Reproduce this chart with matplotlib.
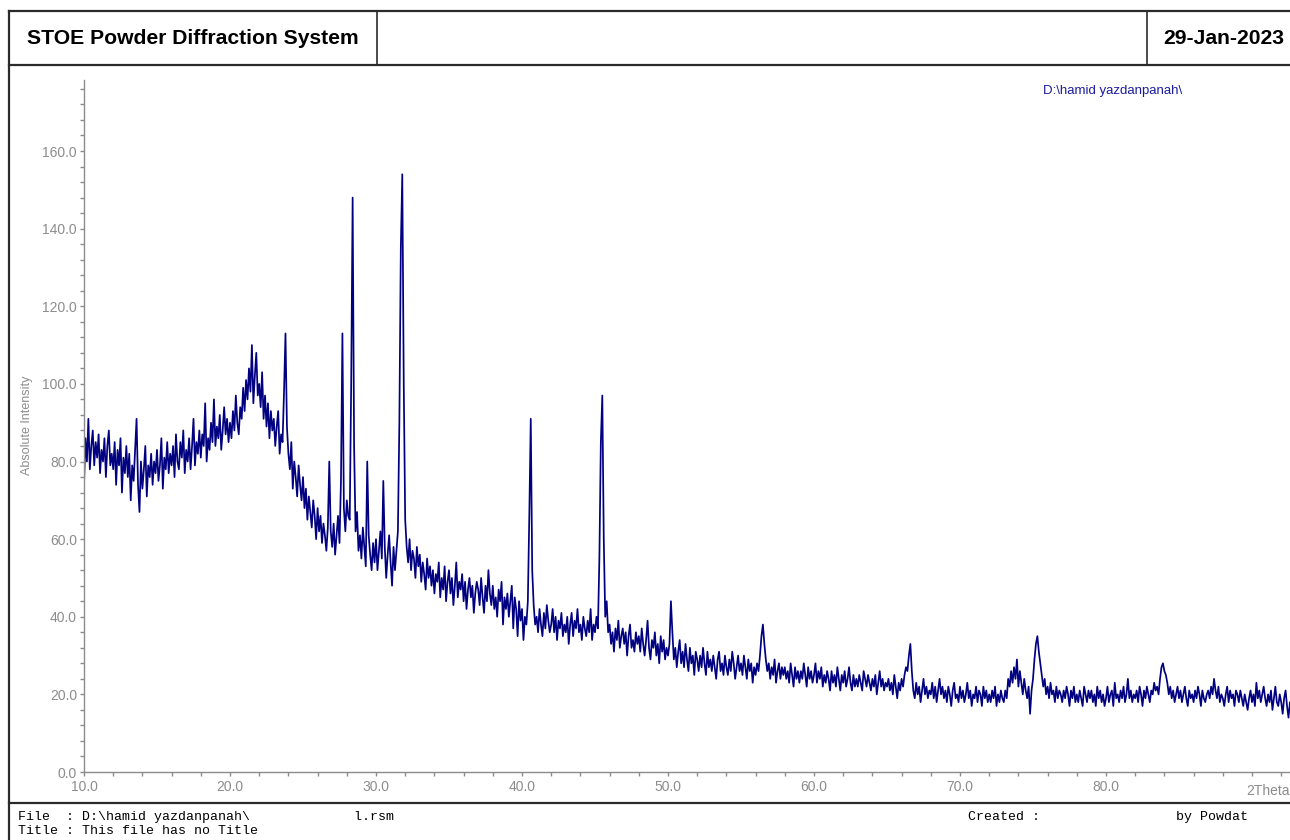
import numpy as np
import matplotlib.pyplot as plt
from matplotlib.lines import Line2D
from matplotlib.ticker import MultipleLocator

plt.rcParams['font.family'] = ['Liberation Sans', 'DejaVu Sans']

# counts, 0.1 deg steps, one row per degree
counts_10_20 = [
    74, 86, 80, 91, 78, 84, 88, 79, 85, 81,
    87, 77, 83, 80, 86, 76, 84, 88, 79, 82,
    78, 85, 74, 83, 79, 86, 72, 81, 77, 84,
    76, 82, 70, 79, 75, 83, 91, 74, 67, 80,
    73, 78, 84, 71, 79, 76, 82, 74, 80, 77,
    83, 75, 79, 86, 73, 81, 78, 85, 77, 82,
    79, 84, 76, 87, 80, 78, 85, 81, 88, 77,
    83, 80, 86, 78, 84, 91, 79, 85, 82, 88,
    81, 87, 84, 95, 80, 86, 83, 90, 85, 96,
    84, 89, 86, 92, 83, 88, 94, 87, 91, 85,
]
counts_20_30 = [
    90, 86, 93, 88, 97, 90, 87, 94, 91, 99,
    93, 101, 96, 104, 98, 110, 95, 102, 108, 97,
    100, 94, 103, 91, 97, 89, 95, 86, 93, 88,
    91, 84, 89, 93, 82, 87, 85, 98, 113, 89,
    82, 78, 85, 73, 80, 76, 71, 79, 74, 70,
    76, 68, 73, 65, 71, 67, 63, 70, 66, 60,
    68, 62, 66, 59, 64, 61, 57, 63, 80, 62,
    58, 64, 56, 61, 66, 59, 75, 113, 68, 62,
    70, 66, 65, 100, 148, 84, 62, 67, 57, 61,
    55, 63, 58, 53, 80, 61, 56, 52, 59, 54,
]
counts_30_40 = [
    60, 52, 57, 62, 55, 75, 58, 50, 56, 61,
    54, 48, 58, 52, 57, 62, 90, 135, 154, 100,
    65, 58, 54, 60, 52, 57, 55, 50, 58, 53,
    56, 49, 54, 51, 47, 55, 50, 53, 48, 52,
    46, 51, 49, 54, 45, 50, 47, 53, 44, 49,
    52, 46, 50, 43, 48, 54, 45, 49, 47, 51,
    44, 49, 42, 47, 50, 45, 48, 41, 46, 49,
    47, 43, 50, 45, 41, 48, 44, 52, 46, 43,
    48, 42, 45, 40, 47, 44, 49, 38, 45, 42,
    46, 40, 44, 48, 37, 45, 42, 35, 44, 39,
]
counts_40_50 = [
    42, 34, 40, 38, 44, 66, 91, 52, 43, 38,
    40, 36, 42, 38, 35, 41, 37, 43, 39, 36,
    38, 42, 36, 40, 34, 39, 37, 41, 35, 38,
    36, 40, 33, 38, 41, 35, 39, 37, 42, 36,
    38, 34, 40, 37, 35, 39, 36, 42, 34, 38,
    36, 40, 37, 55, 85, 97, 60, 40, 44, 36,
    38, 33, 36, 31, 37, 34, 39, 32, 35, 37,
    33, 36, 30, 35, 38, 32, 34, 31, 36, 33,
    35, 31, 37, 33, 30, 34, 39, 32, 29, 34,
    32, 36, 30, 33, 28, 35, 31, 34, 29, 32,
]
counts_50_60 = [
    30, 33, 44, 36, 29, 32, 27, 31, 34, 28,
    31, 27, 33, 29, 26, 32, 28, 30, 25, 31,
    29, 26, 30, 27, 32, 28, 25, 31, 27, 29,
    26, 30, 27, 24, 29, 31, 26, 28, 25, 30,
    27, 25, 29, 26, 31, 28, 24, 27, 30, 26,
    28, 25, 30, 27, 24, 29, 26, 28, 23, 27,
    25, 28, 26, 30, 35, 38, 33, 29, 26, 28,
    24, 27, 25, 29, 23, 26, 28, 24, 27, 25,
    27, 24, 26, 23, 28, 25, 22, 27, 24, 26,
    23, 26, 24, 28, 25, 22, 27, 24, 26, 23,
]
counts_60_70 = [
    25, 28, 23, 26, 24, 27, 22, 25, 23, 26,
    24, 21, 26, 23, 25, 22, 27, 24, 21, 25,
    23, 26, 22, 24, 27, 23, 21, 25, 22, 24,
    22, 25, 23, 21, 26, 24, 22, 25, 23, 21,
    24, 22, 25, 20, 23, 26, 22, 24, 21, 23,
    22, 24, 21, 23, 20, 25, 22, 19, 23, 21,
    24, 22, 25, 27, 26, 30, 33, 26, 21, 19,
    23, 20, 22, 18, 21, 24, 20, 22, 19, 21,
    20, 23, 19, 22, 18, 21, 24, 20, 22, 19,
    21, 18, 22, 20, 17, 21, 23, 19, 20, 18,
]
counts_70_80 = [
    22, 19, 21, 18, 20, 23, 19, 21, 17, 20,
    19, 22, 18, 21, 20, 17, 22, 19, 21, 18,
    20, 18, 21, 19, 22, 17, 20, 18, 21, 19,
    18, 21, 19, 24, 22, 26, 23, 27, 24, 29,
    22, 26, 23, 20, 24, 21, 19, 22, 15, 21,
    24, 29, 33, 35, 31, 28, 25, 22, 24, 20,
    22, 19, 23, 20, 21, 18, 22, 19, 21, 20,
    18, 21, 19, 22, 20, 17, 21, 19, 22, 18,
    20, 18, 21, 19, 17, 22, 20, 18, 21, 19,
    21, 18, 20, 17, 22, 19, 21, 18, 20, 17,
]
counts_80_93 = [
    19, 22, 18, 20, 21, 17, 23, 19, 20, 18,
    21, 19, 22, 18, 20, 24, 19, 21, 18, 20,
    19, 21, 18, 22, 20, 17, 21, 19, 22, 20,
    18, 21, 20, 23, 21, 22, 20, 24, 27, 28,
    26, 25, 23, 20, 22, 19, 21, 18, 20, 22,
    19, 21, 18, 20, 22, 19, 17, 21, 19, 20,
    18, 21, 19, 22, 20, 17, 21, 19, 18, 20,
    21, 19, 22, 20, 24, 21, 19, 22, 18, 20,
    19, 17, 20, 22, 18, 21, 19, 20, 17, 21,
    20, 18, 21, 19, 17, 20, 18, 16, 19, 21,
    18, 20, 17, 23, 19, 21, 18, 20, 22, 19,
    17, 20, 18, 21, 16, 19, 22, 18, 17, 20,
    18, 15, 19, 21, 17, 14, 18, 16, 19, 17,
]

counts = counts_10_20 + counts_20_30 + counts_30_40 + counts_40_50 + \
    counts_50_60 + counts_60_70 + counts_70_80 + counts_80_93
two_theta = 10.0 + 0.1 * np.arange(len(counts))

W, H = 1290, 840
def fx(x):
    return x / W
def fy(y):
    return 1 - y / H

fig = plt.figure(figsize=(12.9, 8.4), dpi=100)

# frame lines (header box, left border, footer separator)
dark = '#2b2b2b'
for (x0, y0, x1, y1, lw) in [(9, 11, 1290, 11, 1.6), (9, 65, 1290, 65, 1.6),
                             (9, 11, 9, 840, 1.6), (9, 803, 1290, 803, 1.6),
                             (377, 11, 377, 65, 1.2), (1147, 11, 1147, 65, 1.2)]:
    fig.add_artist(Line2D([fx(x0), fx(x1)], [fy(y0), fy(y1)], color=dark, lw=lw))

fig.text(fx(193), fy(38), 'STOE Powder Diffraction System', ha='center', va='center',
         fontsize=15.2, fontweight='bold')
fig.text(fx(1163), fy(38), '29-Jan-2023', ha='left', va='center',
         fontsize=15.2, fontweight='bold')

ax = fig.add_axes([fx(84), fy(772), fx(1290) - fx(84), fy(80) - fy(772)])
ax.plot(two_theta, counts, color='#000080', lw=1.25)
ax.set_xlim(10, 10 + (1290 - 84) / 14.6)
ax.set_ylim(0, 178.3)

grey = '#8c8c8c'
for s in ['top', 'right']:
    ax.spines[s].set_visible(False)
for s in ['left', 'bottom']:
    ax.spines[s].set_color(grey)
    ax.spines[s].set_linewidth(1.0)

ax.set_xticks(np.arange(10, 91, 10))
ax.set_xticklabels([f'{v:.1f}' for v in range(10, 81, 10)] + [''])
ax.xaxis.set_minor_locator(MultipleLocator(2))
ax.set_yticks(np.arange(0, 161, 20))
ax.set_yticklabels([f'{v:.1f}' for v in range(0, 161, 20)])
ax.yaxis.set_minor_locator(MultipleLocator(4))
ax.tick_params(which='both', direction='out', length=3, width=1, color=grey,
               labelcolor=grey, labelsize=10)
ax.tick_params(axis='y', pad=2)
ax.tick_params(axis='x', pad=3)
ax.text(91.1, -3.2, '2Theta', ha='center', va='top', color=grey, fontsize=10,
        clip_on=False)

fig.text(fx(27), fy(425), 'Absolute Intensity', rotation=90, ha='center',
         va='center', color=grey, fontsize=9)
fig.text(fx(1043), fy(91), r'D:\hamid yazdanpanah\ ', ha='left', va='center',
         color='#1c1ca0', fontsize=9.5)

mono = dict(family='Liberation Mono', fontsize=9.5, va='center', ha='left')
fig.text(fx(18), fy(817), r'File  : D:\hamid yazdanpanah\             l.rsm', **mono)
fig.text(fx(18), fy(831), 'Title : This file has no Title', **mono)
fig.text(fx(968), fy(817), 'Created :', **mono)
fig.text(fx(1176), fy(817), 'by Powdat', **mono)

fig.savefig('out.png', dpi=100)
